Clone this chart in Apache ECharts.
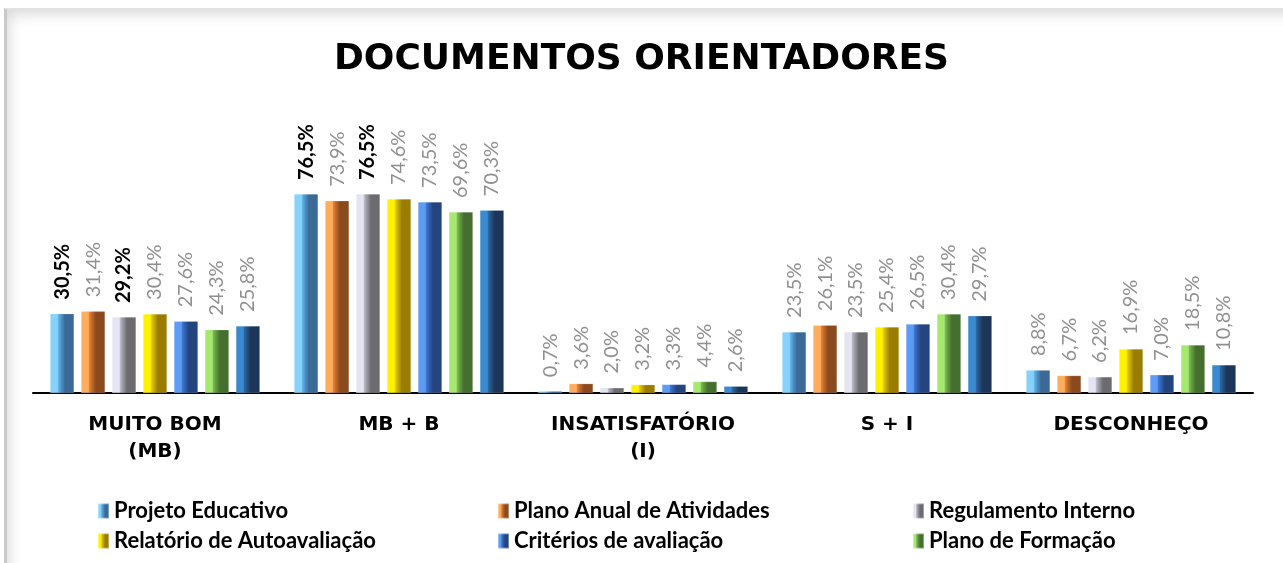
<!DOCTYPE html>
<html>
<head>
<meta charset="utf-8">
<script src="https://cdn.jsdelivr.net/npm/echarts@6/dist/echarts.min.js"></script>
<style>
html,body{margin:0;padding:0;background:#fff;}
#wrap{position:relative;width:1283px;height:563px;overflow:hidden;background:#fff;}
#frame{position:absolute;left:4px;top:8px;width:1276px;height:570px;
 border-left:3px solid #c9c9c9;border-top:2px solid #e2e2e2;border-right:1px solid #eeeeee;
 box-shadow: inset 10px 12px 14px -8px rgba(0,0,0,0.16);}
#chart{position:absolute;left:0;top:0;width:1283px;height:563px;}
</style>
</head>
<body>
<div id="wrap"><div id="frame"></div><div id="chart"></div></div>
<script>
const titleText = 'DOCUMENTOS ORIENTADORES';
const categories = ['MUITO BOM\n(MB)', 'MB + B', 'INSATISFATÓRIO\n(I)', 'S + I', 'DESCONHEÇO'];
const seriesNames = ['Projeto Educativo', 'Plano Anual de Atividades', 'Regulamento Interno',
  'Relatório de Autoavaliação', 'Critérios de avaliação', 'Plano de Formação', 'Outros documentos'];
const projetoEducativo = [30.5, 76.5, 0.7, 23.5, 8.8];
const planoAnual = [31.4, 73.9, 3.6, 26.1, 6.7];
const regulamentoInterno = [29.2, 76.5, 2.0, 23.5, 6.2];
const relatorioAutoavaliacao = [30.4, 74.6, 3.2, 25.4, 16.9];
const criteriosAvaliacao = [27.6, 73.5, 3.3, 26.5, 7.0];
const planoFormacao = [24.3, 69.6, 4.4, 30.4, 18.5];
const outros = [25.8, 70.3, 2.6, 29.7, 10.8];
// labels shown in bold black: [seriesIndex, dataIndex]
const boldLabels = [[0, 0], [0, 1], [2, 0], [2, 1]];

const allValues = [projetoEducativo, planoAnual, regulamentoInterno, relatorioAutoavaliacao,
  criteriosAvaliacao, planoFormacao, outros];
const palette = [
  ['#86d2fa', '#5aaee6', '#3b6a98'],
  ['#fcae5e', '#e07b2e', '#8a4a1e'],
  ['#e4e4f2', '#b4b4c2', '#6c6c70'],
  ['#fff200', '#e3c800', '#9a7c00'],
  ['#5d9bf5', '#3c72cf', '#23447f'],
  ['#a6e870', '#74b64a', '#456f2e'],
  ['#3a8ad0', '#2a64a0', '#1b3658']
];
function grad(c) {
  return new echarts.graphic.LinearGradient(0, 0, 1, 0, [
    {offset: 0, color: c[0]}, {offset: 0.3, color: c[0]},
    {offset: 0.36, color: c[1]}, {offset: 0.62, color: c[2]}, {offset: 1, color: c[2]}
  ]);
}
function fmt(v) { return v.toFixed(1).replace('.', ',') + '%'; }

const series = allValues.map((vals, si) => ({
  name: seriesNames[si],
  type: 'bar',
  barGap: '29%',
  barCategoryGap: '14%',
  itemStyle: {color: grad(palette[si]), borderColor: 'rgba(255,255,255,0.35)', borderWidth: 0.5},
  data: vals.map((v, di) => {
    const b = boldLabels.some(p => p[0] === si && p[1] === di);
    return {value: v, label: b ? {color: '#000', fontWeight: 'bold'} : {}};
  }),
  label: {
    show: true, position: 'top', rotate: 90, align: 'left', verticalAlign: 'middle',
    distance: 14, fontFamily: 'Lato', fontSize: 20, color: '#909090',
    formatter: p => fmt(p.value)
  }
}));

const legendCols = [[0, 3], [1, 4], [2, 5]];
const legendLefts = [92, 492, 907];
const legends = legendCols.map((col, i) => ({
  orient: 'vertical', left: legendLefts[i], top: 495, itemGap: 8,
  itemWidth: 11, itemHeight: 15, icon: 'rect',
  data: col.map(k => seriesNames[k]),
  textStyle: {fontFamily: 'Lato', fontWeight: 'bold', fontSize: 22, color: '#000', lineHeight: 22}
}));

const chart = echarts.init(document.getElementById('chart'), null, {renderer: 'canvas'});
chart.setOption({
  animation: false,
  backgroundColor: 'transparent',
  title: {text: titleText, left: 'center', top: 37,
    textStyle: {fontFamily: 'DejaVu Sans', fontWeight: 'bold', fontSize: 36, color: '#000'}},
  legend: legends,
  grid: {left: 33, right: 30, top: 133, bottom: 170},
  xAxis: {type: 'category', data: categories,
    axisLine: {lineStyle: {color: '#000', width: 2}}, axisTick: {show: false},
    axisLabel: {margin: 18, fontFamily: 'DejaVu Sans', fontWeight: 'bold', fontSize: 20,
      color: '#000', lineHeight: 27, interval: 0}},
  yAxis: {type: 'value', min: 0, max: 100, show: false, splitLine: {show: false}},
  series: series
});
</script>
</body>
</html>
